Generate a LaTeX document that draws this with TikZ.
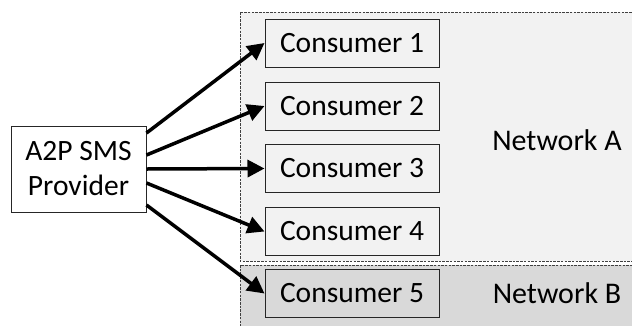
\documentclass[tikz,border=0pt]{standalone}
\usepackage{fontspec}
\setmainfont{Carlito}
\usetikzlibrary{arrows.meta}
\begin{document}
\begin{tikzpicture}[x=1pt,y=-1pt,
  netbox/.style={draw=black!75, dash pattern=on 2.5pt off 1.2pt, line width=1pt},
  cons/.style={draw=black!85, line width=1pt, minimum width=174pt, minimum height=48pt, inner sep=0pt, font=\fontsize{29.5}{32}\selectfont},
  prov/.style={draw=black!85, line width=1pt, minimum width=135pt, minimum height=86pt, inner sep=0pt, align=center, font=\fontsize{29.5}{35}\selectfont},
  lbl/.style={font=\fontsize{30}{32}\selectfont},
  arr/.style={line width=3.5pt, -{Triangle[length=17pt,width=17pt]}}
]
\useasboundingbox (0,0) rectangle (632,325);
\fill[white] (0,0) rectangle (632,325);
\draw[netbox, fill=black!5] (240,12) rectangle (640,261);
\draw[netbox, fill=black!15] (240,265) rectangle (640,335);
\node[cons, fill=black!5] (c1) at (352,43) {Consumer 1};
\node[cons, fill=black!5] (c2) at (352,106) {Consumer 2};
\node[cons, fill=black!5] (c3) at (352,168.5) {Consumer 3};
\node[cons, fill=black!5] (c4) at (352,231.5) {Consumer 4};
\node[cons, fill=black!15] (c5) at (352,293.5) {Consumer 5};
\node[prov, fill=white] (p) at (78.5,169) {A2P SMS\\Provider};
\node[lbl] (na) at (557,140) {Network A};
\node[lbl] (nb) at (557,293) {Network B};
\draw[arr] (p.east |- 0,133) -- (c1.west);
\draw[arr] (p.east |- 0,155) -- (c2.west);
\draw[arr] (p.east |- 0,169) -- (c3.west);
\draw[arr] (p.east |- 0,183) -- (c4.west);
\draw[arr] (p.east |- 0,205) -- (c5.west);
\end{tikzpicture}
\end{document}
